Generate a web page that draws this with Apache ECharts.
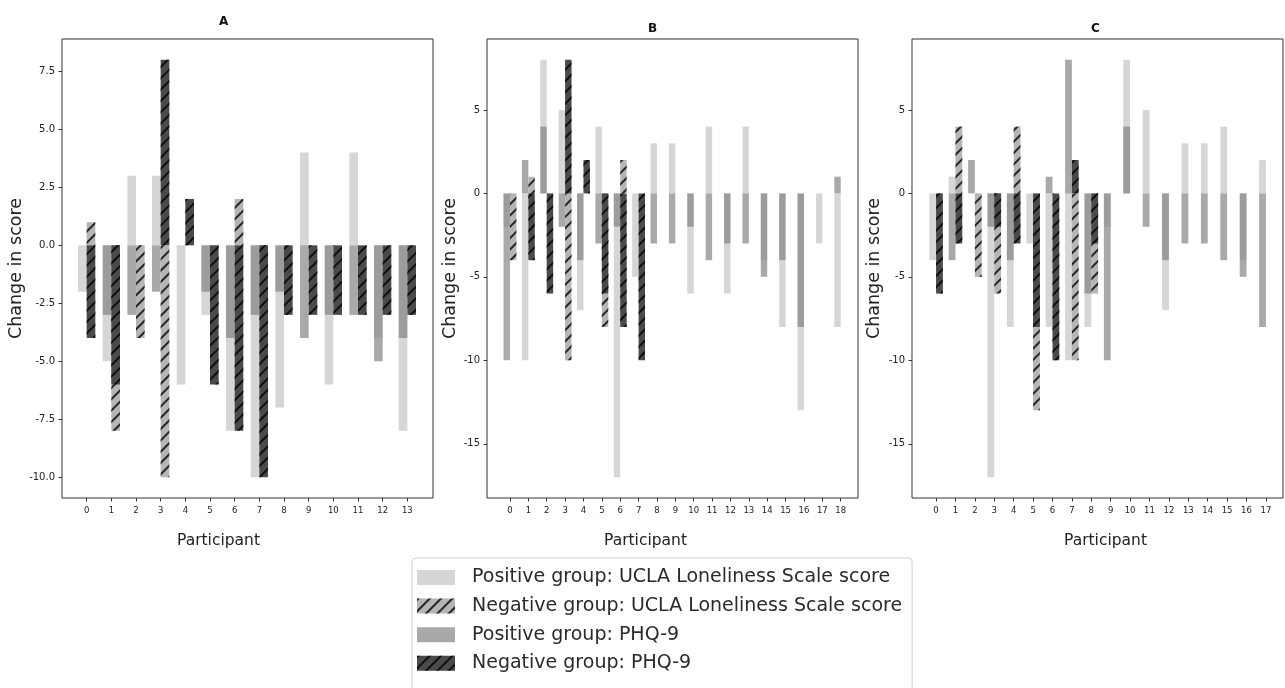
<!DOCTYPE html>
<html>
<head>
<meta charset="utf-8">
<script src="https://cdn.jsdelivr.net/npm/echarts@6/dist/echarts.min.js"></script>
<style>
  html, body { margin: 0; padding: 0; background: #fff; }
  #chart { width: 1285px; height: 688px; }
</style>
</head>
<body>
<div id="chart"></div>
<script>
// Series names (legend)
const seriesNames = [
    "Positive group: UCLA Loneliness Scale score",
    "Negative group: UCLA Loneliness Scale score",
    "Positive group: PHQ-9",
    "Negative group: PHQ-9",
];

// Panel A
const participantsA = [0, 1, 2, 3, 4, 5, 6, 7, 8, 9, 10, 11, 12, 13];
const posUclaA = [-2, -5, 3, 3, -6, -3, -8, -10, -7, 4, -6, 4, -4, -8];
const posPhqA = [0, -3, -3, -2, 0, -2, -4, -3, -2, -4, -3, -3, -5, -4];
const negUclaA = [1, -8, -4, -10, 0, 0, 2, 0, 0, 0, 0, 0, 0, 0];
const negPhqA = [-4, -6, 0, 8, 2, -6, -8, -10, -3, -3, -3, -3, -3, -3];
const yTicksA = [-10, -7.5, -5, -2.5, 0, 2.5, 5, 7.5];

// Panel B
const participantsB = [0, 1, 2, 3, 4, 5, 6, 7, 8, 9, 10, 11, 12, 13, 14, 15, 16, 17, 18];
const posUclaB = [-2, -10, 8, 5, -7, 4, -17, -5, 3, 3, -6, 4, -6, 4, -4, -8, -13, -3, -8];
const posPhqB = [-10, 2, 4, -2, -4, -3, -2, 0, -3, -3, -2, -4, -3, -3, -5, -4, -8, 0, 1];
const negUclaB = [-4, 1, 0, -10, 0, -8, 2, 0, 0, 0, 0, 0, 0, 0, 0, 0, 0, 0, 0];
const negPhqB = [0, -4, -6, 8, 2, -6, -8, -10, 0, 0, 0, 0, 0, 0, 0, 0, 0, 0, 0];
const yTicksB = [-15, -10, -5, 0, 5];

// Panel C
const participantsC = [0, 1, 2, 3, 4, 5, 6, 7, 8, 9, 10, 11, 12, 13, 14, 15, 16, 17];
const posUclaC = [-4, 1, 0, -17, -8, -3, -8, -10, -8, -2, 8, 5, -7, 3, 3, 4, -4, 2];
const posPhqC = [0, -4, 2, -2, -4, 0, 1, 8, -6, -10, 4, -2, -4, -3, -3, -4, -5, -8];
const negUclaC = [0, 4, -5, -6, 4, -13, 0, -10, -6, 0, 0, 0, 0, 0, 0, 0, 0, 0];
const negPhqC = [-6, -3, 0, -2, -3, -8, -10, 2, -3, 0, 0, 0, 0, 0, 0, 0, 0, 0];
const yTicksC = [-15, -10, -5, 0, 5];

const FONT = "DejaVu Sans";
const hatch = {
    symbol: "rect",
    symbolSize: 1,
    color: "rgba(0,0,0,0.8)",
    dashArrayX: [1, 0],
    dashArrayY: [1.3, 5.2],
    rotation: -Math.PI / 4,
};
const barStyles = [
    { color: "#d6d6d6" },
    { color: "#b5b5b5", decal: hatch },
    { color: "rgba(128,128,128,0.68)" },
    { color: "#4a4a4a", decal: hatch },
];

const panels = [
    {
        title: "A", titleLeft: 214, titleTop: 11,
        participants: participantsA,
        values: [posUclaA, negUclaA, posPhqA, negPhqA],
        yTicks: yTicksA, yMin: -10.9, yMax: 8.9, yFmt: (v) => v.toFixed(1),
        xMin: -1.0, xMax: 14.04,
        grid: { left: 62, top: 39, width: 371, height: 459 },
        yNameGap: 35, xNamePad: [0, 58, 0, 0],
    },
    {
        title: "B", titleLeft: 643, titleTop: 18,
        participants: participantsB,
        values: [posUclaB, negUclaB, posPhqB, negPhqB],
        yTicks: yTicksB, yMin: -18.25, yMax: 9.25, yFmt: (v) => String(v),
        xMin: -1.25, xMax: 18.94,
        grid: { left: 487, top: 39, width: 371, height: 459 },
        yNameGap: 25.5, xNamePad: [0, 54, 0, 0],
    },
    {
        title: "C", titleLeft: 1086, titleTop: 18,
        participants: participantsC,
        values: [posUclaC, negUclaC, posPhqC, negPhqC],
        yTicks: yTicksC, yMin: -18.25, yMax: 9.25, yFmt: (v) => String(v),
        xMin: -1.24, xMax: 17.88,
        grid: { left: 912, top: 39, width: 371, height: 459 },
        yNameGap: 28.5, xNamePad: [0, 0, 0, 16],
    },
];

// each series gets its own x axis; a blank bar series beside it shifts it
// left (positive group) or right (negative group) of the tick
const sideOf = [0, 1, 0, 1]; // 0 = left of tick, 1 = right
const drawOrder = [0, 2, 1, 3]; // UCLA under PHQ-9 within each group

const grids = [], xAxes = [], yAxes = [], series = [], titles = [];

panels.forEach((p, g) => {
    grids.push(Object.assign({ show: true, borderColor: "#333", borderWidth: 1, backgroundColor: "#fff" }, p.grid));
    titles.push({
        text: p.title, left: p.titleLeft, top: p.titleTop,
        textStyle: { fontFamily: FONT, fontSize: 12, fontWeight: "bold", color: "#111" },
    });
    yAxes.push({
        type: "value", gridIndex: g, min: p.yMin, max: p.yMax,
        name: "Change in score", nameLocation: "middle", nameGap: p.yNameGap,
        nameTextStyle: { fontFamily: FONT, fontSize: 17.5, color: "#222" },
        axisLine: { show: false, onZero: false },
        axisTick: { show: true, length: 3.5, lineStyle: { color: "#333" }, customValues: p.yTicks },
        axisLabel: { fontFamily: FONT, fontSize: 10, color: "#222", margin: 7, customValues: p.yTicks, formatter: p.yFmt },
        splitLine: { show: false },
    });
    drawOrder.forEach((k, j) => {
        const axisIndex = xAxes.length;
        const visible = j === 0;
        xAxes.push({
            type: "value", gridIndex: g, min: p.xMin, max: p.xMax, show: visible,
            name: visible ? "Participant" : "", nameLocation: "middle", nameGap: 35,
            nameTextStyle: { fontFamily: FONT, fontSize: 15.5, color: "#222", padding: p.xNamePad },
            axisLine: { show: false, onZero: false },
            axisTick: { show: true, length: 3.5, lineStyle: { color: "#333" }, customValues: p.participants },
            axisLabel: { fontFamily: FONT, fontSize: 8.5, color: "#222", margin: 8, customValues: p.participants },
            splitLine: { show: false },
        });
        const bar = {
            type: "bar", name: seriesNames[k], xAxisIndex: axisIndex, yAxisIndex: g,
            barWidth: "35%", barGap: "0%",
            itemStyle: barStyles[k],
            data: p.participants.map((x, i) => [x, p.values[k][i]]),
        };
        const blank = {
            type: "bar", name: "_blank", xAxisIndex: axisIndex, yAxisIndex: g,
            barWidth: "35%", barGap: "0%", data: [],
        };
        if (sideOf[k] === 0) series.push(bar, blank);
        else series.push(blank, bar);
    });
});

const chart = echarts.init(document.getElementById("chart"));
chart.setOption({
    animation: false,
    backgroundColor: "#fff",
    title: titles,
    grid: grids,
    xAxis: xAxes,
    yAxis: yAxes,
    legend: {
        data: seriesNames,
        orient: "vertical",
        left: 412, top: 558, height: 160,
        padding: [10, 10, 30, 5],
        itemWidth: 38, itemHeight: 15, itemGap: 9.6,
        icon: "rect",
        borderColor: "#cfcfcf", borderWidth: 1, borderRadius: 4,
        textStyle: { fontFamily: FONT, fontSize: 19, color: "#2a2a2a", padding: [0, 0, 0, 12] },
    },
    series: series,
});
</script>
</body>
</html>
